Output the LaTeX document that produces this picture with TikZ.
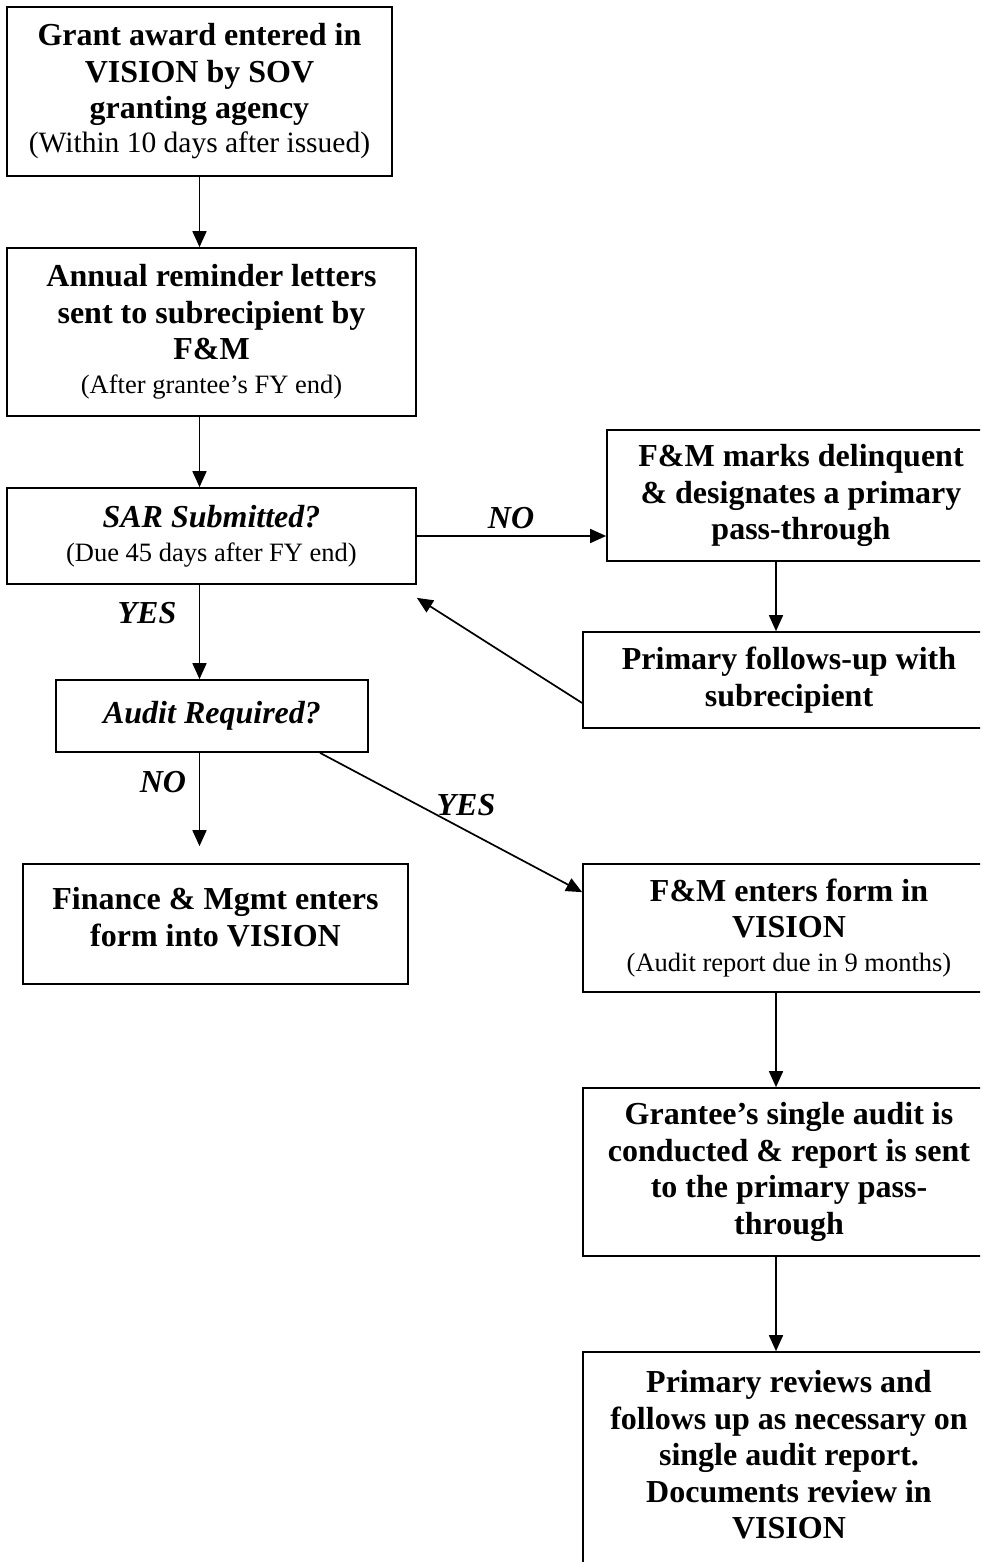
\documentclass[tikz,border=0pt]{standalone}
\usepackage{fontspec}
\setmainfont{Liberation Serif}
\usetikzlibrary{arrows.meta}
\newcommand\bfbig{\fontsize{16}{18.25}\selectfont\bfseries}
\newcommand\smtxt{\fontsize{13.25}{15}\selectfont\mdseries}
\newcommand\smtxtb{\fontsize{14.75}{16}\selectfont\mdseries}
\begin{document}
\begin{tikzpicture}[x=0.5pt,y=-0.5pt,
  box/.style={draw, line width=0.85pt, inner sep=0pt, align=center, font=\bfbig},
  txt/.style={inner sep=0pt, align=center, font=\bfbig},
  lab/.style={inner sep=0pt, font=\bfbig\itshape},
  arr/.style={line width=0.85pt, -{Triangle[length=8pt,width=7pt]}}]
\useasboundingbox (0,0) rectangle (980,1562);
\clip (0,0) rectangle (980,1562);
\fill[white] (0,0) rectangle (980,1562);
\coordinate (rc) at (776,0);
% boxes
\node[box, minimum width=192.5pt, minimum height=84.5pt] (b1) at (199.5,91.5)
  {Grant award entered in\\VISION by SOV\\granting agency\\[-1.25pt]{\smtxtb (Within 10 days after issued)}};
\node[box, minimum width=204.5pt, minimum height=84pt] (b2) at (211.5,332)
  {Annual reminder letters\\sent to subrecipient by\\F\&M\\[-1.25pt]{\smtxt (After grantee’s FY end)}};
\node[box, minimum width=204.5pt, minimum height=48pt] (b3) at (211.5,536)
  {{\itshape SAR Submitted?}\\[-1.25pt]{\smtxt (Due 45 days after FY end)}};
\node[box, minimum width=194pt, minimum height=65.5pt] (b4) at (801,495.5)
  {F\&M marks delinquent\\\& designates a primary\\pass-through};
\node[box, minimum width=206pt, minimum height=48pt] (b5) at (789,680)
  {Primary follows-up with\\subrecipient};
\node[box, minimum width=156pt, minimum height=36pt] (b6) at (212,716)
  {\itshape Audit Required?};
\node[box, minimum width=192.5pt, minimum height=60pt] (b7) at (215.5,924) {};
\node[txt] (t7) at (215.5,917) {Finance \& Mgmt enters\\form into VISION};
\node[box, minimum width=206pt, minimum height=64pt] (b8) at (789,928)
  {F\&M enters form in\\VISION\\[-1.25pt]{\smtxt (Audit report due in 9 months)}};
\node[box, minimum width=206pt, minimum height=84pt] (b9) at (789,1172)
  {Grantee’s single audit is\\conducted \& report is sent\\to the primary pass-\\through};
\node[box, minimum width=206pt, minimum height=114pt] (b10) at (789,1466) {};
\node[txt] (t10) at (789,1455) {Primary reviews and\\follows up as necessary on\\single audit report.\\Documents review in\\VISION};
% connectors
\draw[arr] (b1.south) -- (b1.south |- b2.north);
\draw[arr] (b2.south -| b1.south) -- (b3.north -| b1.south);
\draw[arr] (b3.south -| b1.south) -- (b6.north -| b1.south);
\draw[arr, shorten >=8.5pt] (b6.south -| b1.south) -- (b7.north -| b1.south);
\draw[arr] (b3.east) -- (b3.east -| b4.west);
\draw[arr] (b4.south -| rc) -- (b5.north -| rc);
\draw[arr] ([yshift=-11.5pt]b5.west) -- ([yshift=-6.5pt]b3.south east);
\draw[arr] ([xshift=54pt]b6.south) -- ([yshift=-14.5pt]b8.north west);
\draw[arr] (b8.south -| rc) -- (b9.north -| rc);
\draw[arr] (b9.south -| rc) -- (b10.north -| rc);
% labels
\node[lab] (lno1) at (511,518) {NO};
\node[lab] (lyes1) at (147,613) {YES};
\node[lab] (lno2) at (163,782) {NO};
\node[lab] (lyes2) at (466,805) {YES};
\end{tikzpicture}
\end{document}
